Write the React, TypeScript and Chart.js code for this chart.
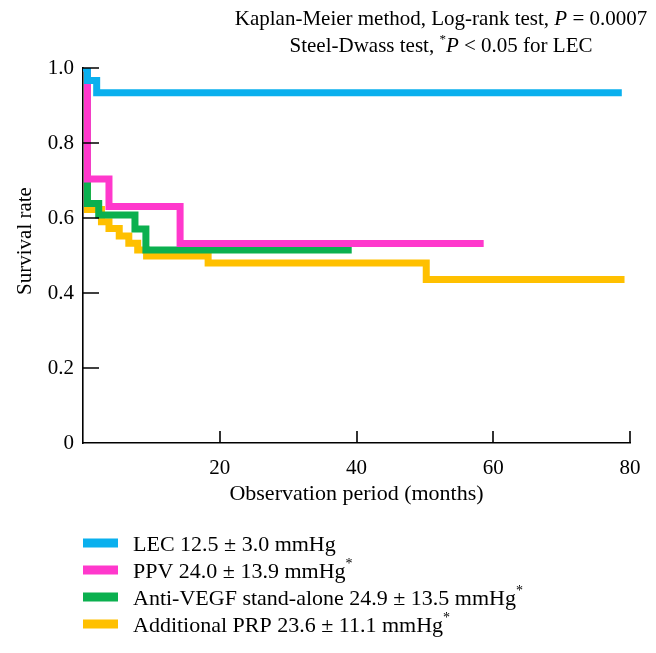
import React, { useEffect, useRef } from "react";
import { Chart, registerables } from "chart.js";

Chart.register(...registerables);

// ---------- data ----------
const seriesLabels = [
  "LEC 12.5 ± 3.0 mmHg",
  "PPV 24.0 ± 13.9 mmHg*",
  "Anti-VEGF stand-alone 24.9 ± 13.5 mmHg*",
  "Additional PRP 23.6 ± 11.1 mmHg*",
];
const seriesColors = ["#0AB0EE", "#FF38CC", "#0BB04F", "#FFC000"];

const lecMonths = [0, 0.65, 2.0, 78.8];
const lecSurvival = [1.0, 0.967, 0.934, 0.934];

const ppvMonths = [0, 0.65, 3.8, 14.2, 58.6];
const ppvSurvival = [1.0, 0.704, 0.631, 0.532, 0.532];

const vegfMonths = [0, 0.65, 2.3, 7.6, 9.2, 39.3];
const vegfSurvival = [1.0, 0.639, 0.608, 0.571, 0.515, 0.515];

const prpMonths = [0, 0.65, 2.7, 3.8, 5.3, 6.7, 8.0, 9.3, 18.3, 50.2, 79.2];
const prpSurvival = [1.0, 0.623, 0.59, 0.572, 0.552, 0.533, 0.515, 0.499, 0.48, 0.436, 0.436];

const xTickValues = [0, 20, 40, 60, 80];
const xTickLabels = ["", "20", "40", "60", "80"];
const yTickValues = [0, 0.2, 0.4, 0.6, 0.8, 1.0];
const yTickLabels = ["0", "0.2", "0.4", "0.6", "0.8", "1.0"];

const xTitle = "Observation period (months)";
const yTitle = "Survival rate";
const noteLine1 = [
  { text: "Kaplan-Meier method, Log-rank test, " },
  { text: "P", italic: true },
  { text: " = 0.0007" },
];
const noteLine2 = [
  { text: "Steel-Dwass test, " },
  { text: "*", sup: true },
  { text: "P", italic: true },
  { text: " < 0.05 for LEC" },
];

// ---------- helpers ----------
const FONT = '"Liberation Serif", "Times New Roman", serif';
const W = 656;
const H = 653;

type Run = { text: string; italic?: boolean; sup?: boolean };

function drawRuns(
  ctx: CanvasRenderingContext2D,
  runs: Run[],
  x: number,
  y: number,
  size: number,
  align: "left" | "center"
) {
  const fontFor = (r: Run) =>
    `${r.italic ? "italic " : ""}${r.sup ? Math.round(size * 0.62) : size}px ${FONT}`;
  let total = 0;
  const widths = runs.map((r) => {
    ctx.font = fontFor(r);
    const w = ctx.measureText(r.text).width;
    total += w;
    return w;
  });
  let cx = align === "center" ? x - total / 2 : x;
  ctx.textAlign = "left";
  ctx.textBaseline = "alphabetic";
  runs.forEach((r, i) => {
    ctx.font = fontFor(r);
    ctx.fillText(r.text, cx, r.sup ? y - size * 0.42 : y);
    cx += widths[i];
  });
}

const build = (xs: number[], ys: number[]) => xs.map((x, i) => ({ x, y: ys[i] }));

const decorations = {
  id: "decorations",
  afterDatasetsDraw(chart: any) {
    const { ctx, chartArea, scales } = chart;
    const xs = scales.x;
    const ys = scales.y;
    ctx.save();
    ctx.strokeStyle = "#000";
    ctx.lineWidth = 1.6;
    ctx.beginPath();
    xTickValues.forEach((v) => {
      if (v === 0) return;
      const px = Math.round(xs.getPixelForValue(v));
      ctx.moveTo(px, chartArea.bottom);
      ctx.lineTo(px, chartArea.bottom - 12);
    });
    yTickValues.forEach((v) => {
      if (v === 0) return;
      const py = Math.round(ys.getPixelForValue(v));
      ctx.moveTo(chartArea.left, py);
      ctx.lineTo(chartArea.left + 16, py);
    });
    ctx.stroke();
    ctx.restore();
  },
  afterDraw(chart: any) {
    const { ctx, chartArea } = chart;
    ctx.save();
    ctx.fillStyle = "#000";

    // annotation
    drawRuns(ctx, noteLine1, 441, 25, 21, "center");
    drawRuns(ctx, noteLine2, 441, 52, 21, "center");

    // x title
    ctx.font = `22px ${FONT}`;
    ctx.textAlign = "center";
    ctx.textBaseline = "middle";
    ctx.fillText(xTitle, (chartArea.left + chartArea.right) / 2, 494);

    // y title
    ctx.font = `21px ${FONT}`;
    ctx.save();
    ctx.translate(25, 241);
    ctx.rotate(-Math.PI / 2);
    ctx.fillText(yTitle, 0, 0);
    ctx.restore();

    // legend
    seriesLabels.forEach((label, i) => {
      const rowY = 543 + i * 27;
      ctx.fillStyle = seriesColors[i];
      ctx.fillRect(83, rowY - 4.5, 35, 9);
      ctx.fillStyle = "#000";
      const star = label.endsWith("*");
      const runs: Run[] = star
        ? [{ text: label.slice(0, -1) }, { text: "*", sup: true }]
        : [{ text: label }];
      drawRuns(ctx, runs, 133, rowY + 7.5, 22, "left");
    });
    ctx.restore();
  },
};

export default function App() {
  const ref = useRef<HTMLCanvasElement | null>(null);

  useEffect(() => {
    if (!ref.current) return;
    const series = [
      build(lecMonths, lecSurvival),
      build(ppvMonths, ppvSurvival),
      build(vegfMonths, vegfSurvival),
      build(prpMonths, prpSurvival),
    ];
    const chart = new Chart(ref.current, {
      type: "line",
      data: {
        datasets: series.map((d, i) => ({
          label: seriesLabels[i],
          data: d,
          borderColor: seriesColors[i],
          backgroundColor: seriesColors[i],
          borderWidth: 7,
          pointRadius: 0,
          stepped: "before" as const,
          borderJoinStyle: "miter" as const,
          borderCapStyle: "butt" as const,
          fill: false,
          clip: 0,
        })),
      },
      options: {
        animation: false,
        responsive: false,
        events: [],
        layout: { padding: { top: 68, right: W - 630, bottom: H - 443 - 40, left: 0 } },
        plugins: { legend: { display: false }, tooltip: { enabled: false }, title: { display: false } },
        scales: {
          x: {
            type: "linear",
            min: 0,
            max: 80,
            afterFit: (s: any) => {
              s.height = 40;
            },
            afterBuildTicks: (s: any) => {
              s.ticks = xTickValues.map((v) => ({ value: v }));
            },
            ticks: {
              color: "#000",
              font: { family: FONT, size: 21 },
              padding: 13,
              maxRotation: 0,
              autoSkip: false,
              callback: (v: any) => xTickLabels[xTickValues.indexOf(Number(v))] ?? "",
            },
            grid: { drawOnChartArea: false, drawTicks: false, display: true, color: "rgba(0,0,0,0)" },
            border: { display: true, color: "#000", width: 1.6 },
          },
          y: {
            type: "linear",
            min: 0,
            max: 1,
            afterFit: (s: any) => {
              s.width = 83;
            },
            afterBuildTicks: (s: any) => {
              s.ticks = yTickValues.map((v) => ({ value: v }));
            },
            ticks: {
              color: "#000",
              font: { family: FONT, size: 21 },
              padding: 9,
              autoSkip: false,
              callback: (v: any) => {
                const idx = yTickValues.findIndex((t) => Math.abs(t - Number(v)) < 1e-9);
                return idx >= 0 ? yTickLabels[idx] : "";
              },
            },
            grid: { drawOnChartArea: false, drawTicks: false, display: true, color: "rgba(0,0,0,0)" },
            border: { display: true, color: "#000", width: 1.6 },
          },
        },
      },
      plugins: [decorations],
    });
    return () => chart.destroy();
  }, []);

  return (
    <div style={{ width: W, height: H, margin: -8, position: "relative", overflow: "hidden" }}>
      <canvas ref={ref} width={W} height={H} style={{ display: "block", width: W, height: H }} />
    </div>
  );
}
